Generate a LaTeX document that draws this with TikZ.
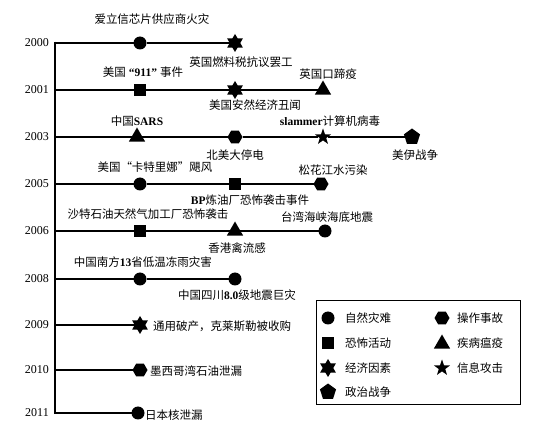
\documentclass[tikz,border=0pt]{standalone}
\usepackage{fontspec}
\setmainfont{Liberation Serif}
\newfontfamily\cjk{Noto Sans CJK SC}
\usetikzlibrary{shapes.geometric}
\newcommand\latb[1]{{\rmfamily\bfseries #1}}
\tikzset{
  mk/.style={fill=black, draw=none, inner sep=0pt, outer sep=0pt},
  mcirc/.style={mk, circle, minimum size=13pt},
  msq/.style={mk, rectangle, minimum size=12.5pt},
  mtri/.style={mk, regular polygon, regular polygon sides=3, minimum size=19pt},
  mhex/.style={mk, regular polygon, regular polygon sides=6, minimum size=15pt},
  mpent/.style={mk, regular polygon, regular polygon sides=5, minimum size=17pt},
  msix/.style={mk, star, star points=6, star point ratio=1.7, minimum size=18pt},
  mstar/.style={mk, star, star points=5, star point ratio=2.5, minimum size=17pt},
  lab/.style={font=\cjk\fontsize{11.5}{12}\selectfont, inner sep=0pt},
  yr/.style={font=\fontsize{12}{12}\selectfont, anchor=east, inner sep=0pt},
  tl/.style={line width=1.1pt},
  ax/.style={line width=2.6pt},
  legbox/.style={draw=black, line width=0.8pt},
}
\begin{document}
\begin{tikzpicture}[x=1pt, y=-1pt]
\useasboundingbox (0,0) rectangle (542,433);
% axis
\coordinate (axtop) at (55,41.7);
\coordinate (axbot) at (55,414.3);
\draw[ax] (axtop) -- (axbot);
% year labels
\foreach \yy/\ypos in {2000/43,2001/90,2003/137,2005/184,2006/231,2008/279,2009/325,2010/370,2011/413}{
  \node[yr] (Y\yy) at (49,\ypos) {\yy};
  \coordinate (A\yy) at (55,\ypos);
}
% 2000
\node[mcirc] (m00a) at (140,43) {};
\node[msix]  (m00b) at (235,43) {};
\draw[tl] (A2000) -- (m00a) -- (m00b);
\node[lab] (l00a) at (152,19) {爱立信芯片供应商火灾};
\node[lab] (l00b) at (241,62) {英国燃料税抗议罢工};
% 2001
\node[msq]  (m01a) at (140,90) {};
\node[msix] (m01b) at (235,90) {};
\node[mtri] (m01c) at (323,90) {};
\draw[tl] (A2001) -- (m01a) -- (m01b) -- (m01c);
\node[lab] (l01a) at (143,72) {美国\hspace{3pt}\latb{“911”}\hspace{3pt}事件};
\node[lab] (l01b) at (328,74) {英国口蹄疫};
\node[lab] (l01c) at (255,105) {美国安然经济丑闻};
% 2003
\node[mtri]  (m03a) at (137,137) {};
\node[mhex]  (m03b) at (235,137) {};
\node[mstar] (m03c) at (323,137) {};
\node[mpent] (m03d) at (412,137) {};
\draw[tl] (A2003) -- (m03a) -- (m03b) -- (m03c) -- (m03d);
\node[lab] (l03a) at (137,121) {中国\latb{SARS}};
\node[lab] (l03b) at (235,155) {北美大停电};
\node[lab] (l03c) at (330,121) {\latb{slammer}计算机病毒};
\node[lab] (l03d) at (415,155) {美伊战争};
% 2005
\node[mcirc] (m05a) at (140,184) {};
\node[msq]   (m05b) at (235,184) {};
\node[mhex]  (m05c) at (321,184) {};
\draw[tl] (A2005) -- (m05a) -- (m05b) -- (m05c);
\node[lab] (l05a) at (155,167) {美国“卡特里娜”飓风};
\node[lab] (l05b) at (250,200) {\latb{BP}炼油厂恐怖袭击事件};
\node[lab] (l05c) at (333,170) {松花江水污染};
% 2006
\node[msq]   (m06a) at (140,231) {};
\node[mtri]  (m06b) at (235,231) {};
\node[mcirc] (m06c) at (325,231) {};
\draw[tl] (A2006) -- (m06a) -- (m06b) -- (m06c);
\node[lab] (l06a) at (148,214) {沙特石油天然气加工厂恐怖袭击};
\node[lab] (l06b) at (327,217) {台湾海峡海底地震};
\node[lab] (l06c) at (237,248) {香港禽流感};
% 2008
\node[mcirc] (m08a) at (140,279) {};
\node[mcirc] (m08b) at (235,279) {};
\draw[tl] (A2008) -- (m08a) -- (m08b);
\node[lab] (l08a) at (143,262) {中国南方\latb{13}省低温冻雨灾害};
\node[lab] (l08b) at (237,295) {中国四川\latb{8.0}级地震巨灾};
% 2009
\node[msix] (m09a) at (140,325) {};
\draw[tl] (A2009) -- (m09a);
\node[lab, anchor=west] (l09a) at (153,326) {通用破产，克莱斯勒被收购};
% 2010
\node[mhex] (m10a) at (140,370) {};
\draw[tl] (A2010) -- (m10a);
\node[lab, anchor=west] (l10a) at (150,371) {墨西哥湾石油泄漏};
% 2011
\node[mcirc] (m11a) at (138,413) {};
\draw[tl] (A2011) -- (m11a);
\node[lab, anchor=west] (l11a) at (145,415) {日本核泄漏};
% legend
\node[legbox, minimum width=204pt, minimum height=104pt, inner sep=0pt] (leg) at (418,352) {};
\node[mcirc] (g1) at (328,318) {};
\node[lab, anchor=west] (t1) at (345,318) {自然灾难};
\node[msq] (g2) at (328,343) {};
\node[lab, anchor=west] (t2) at (345,343) {恐怖活动};
\node[msix] (g3) at (328,368) {};
\node[lab, anchor=west] (t3) at (345,368) {经济因素};
\node[mpent] (g4) at (328,392) {};
\node[lab, anchor=west] (t4) at (345,392) {政治战争};
\node[mhex] (g5) at (442,318) {};
\node[lab, anchor=west] (t5) at (457,318) {操作事故};
\node[mtri] (g6) at (442,344) {};
\node[lab, anchor=west] (t6) at (457,343) {疾病瘟疫};
\node[mstar] (g7) at (442,368) {};
\node[lab, anchor=west] (t7) at (457,368) {信息攻击};
\end{tikzpicture}
\end{document}
